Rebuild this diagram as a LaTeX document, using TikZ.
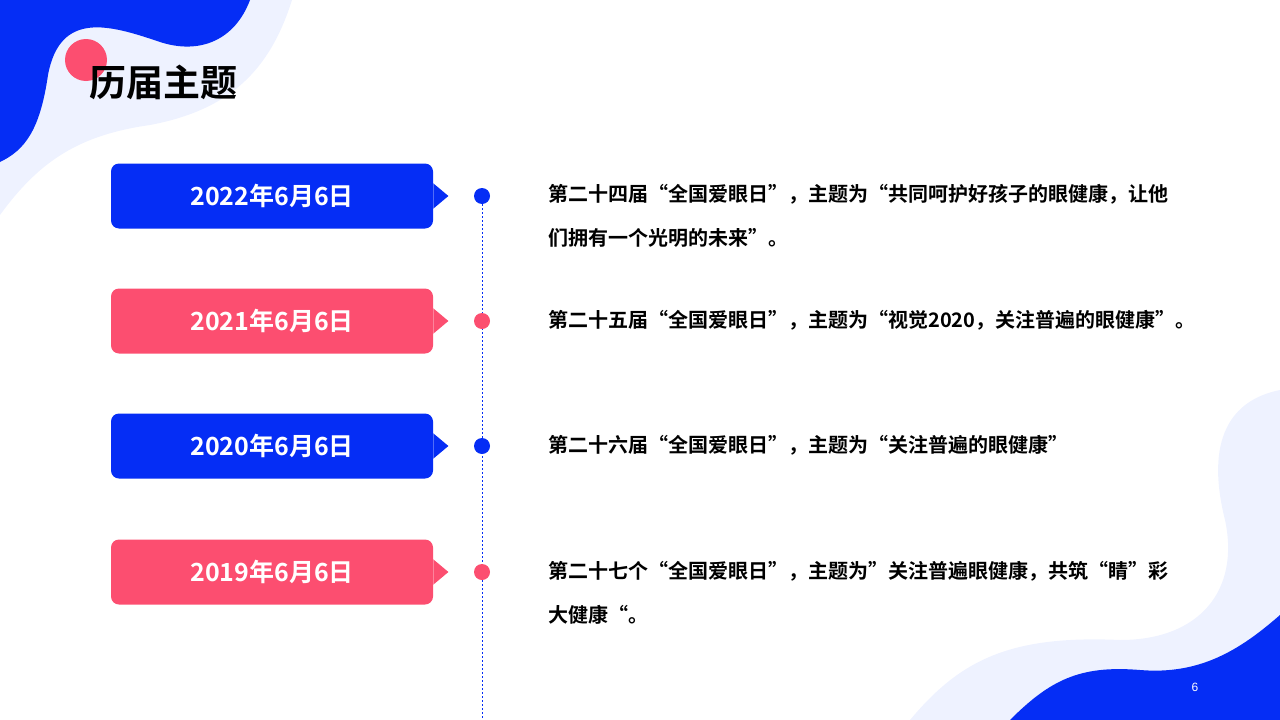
\documentclass[tikz,border=0pt]{standalone}
\usepackage{fontspec}
\setmainfont{Liberation Sans}
\newfontfamily\cjk{Noto Sans CJK SC}[BoldFont={Noto Sans CJK SC Bold}]
\XeTeXlinebreaklocale "zh"
\XeTeXlinebreakskip=0pt plus 1pt
\usetikzlibrary{shapes.geometric,positioning}
\definecolor{themeblue}{RGB}{5, 45, 245}
\definecolor{themered}{RGB}{252, 78, 112}
\definecolor{paleblue}{RGB}{238, 242, 255}
\tikzstyle{datebox} = [
  rounded corners=8pt,
  minimum width=322pt,
  minimum height=65pt,
  text=white,
  font=\cjk\bfseries\fontsize{25}{28}\selectfont,
]
\tikzstyle{pointer} = [
  isosceles triangle,
  isosceles triangle apex angle=80,
  minimum height=15pt,
  inner sep=0pt,
  anchor=west,
]
\tikzstyle{dot} = [circle, minimum size=16pt, inner sep=0pt]
\tikzstyle{theme} = [
  anchor=north west,
  text width=710pt,
  align=left,
  inner sep=0pt,
  font=\cjk\bfseries\fontsize{20}{44}\selectfont,
]
\begin{document}
\begin{tikzpicture}[x=1pt,y=-1pt]

        \useasboundingbox (0,0) rectangle (1280,720);

        % corner blobs
        \fill [paleblue] (0,0) -- (292,0) .. controls (270,70) and (230,110) .. (150,125)
              .. controls (80,135) and (40,160) .. (0,215) -- cycle;
        \fill [themeblue] (0,0) -- (250,0) .. controls (235,40) and (200,55) .. (160,42)
              .. controls (110,25) and (60,10) .. (48,75)
              .. controls (40,130) and (25,150) .. (0,162) -- cycle;
        \fill [paleblue] (910,720) .. controls (960,660) and (1010,635) .. (1120,640)
              .. controls (1200,640) and (1240,590) .. (1225,520)
              .. controls (1205,440) and (1230,400) .. (1280,390) -- (1280,720) -- cycle;
        \fill [themeblue] (1010,720) .. controls (1050,680) and (1080,665) .. (1140,670)
              .. controls (1200,675) and (1240,650) .. (1280,615) -- (1280,720) -- cycle;

        \fill [themered] (86,60) circle (21);
        \node [anchor=west, inner sep=0pt, font=\cjk\bfseries\fontsize{37}{40}\selectfont] (title) at (89,82) {历届主题};

        % timeline
        \node [datebox, fill=themeblue] (d2022) at (272,196) {2022年6月6日};
        \node [datebox, fill=themered] (d2021) at (272,321) {2021年6月6日};
        \node [datebox, fill=themeblue] (d2020) at (272,446) {2020年6月6日};
        \node [datebox, fill=themered] (d2019) at (272,572) {2019年6月6日};

        \node [pointer, fill=themeblue] (p2022) at (d2022.east) {};
        \node [pointer, fill=themered] (p2021) at (d2021.east) {};
        \node [pointer, fill=themeblue] (p2020) at (d2020.east) {};
        \node [pointer, fill=themered] (p2019) at (d2019.east) {};

        \coordinate (lineend) at (482,720);
        \draw [themeblue, line width=0.8pt, dash pattern=on 2pt off 2pt] (482,196) -- (lineend);

        \node [dot, fill=themeblue] (c2022) at (482,196) {};
        \node [dot, fill=themered] (c2021) at (482,321) {};
        \node [dot, fill=themeblue] (c2020) at (482,446) {};
        \node [dot, fill=themered] (c2019) at (482,572) {};

        \node [theme] (t2022) at (548,184) {第二十四届“全国爱眼日”，主题为“共同呵护好孩子的眼健康，让他\\们拥有一个光明的未来”。};
        \node [theme] (t2021) at (548,310) {第二十五届“全国爱眼日”，主题为“视觉2020，关注普遍的眼健康”。};
        \node [theme] (t2020) at (548,435) {第二十六届“全国爱眼日”，主题为“关注普遍的眼健康”};
        \node [theme] (t2019) at (548,561) {第二十七个“全国爱眼日”，主题为”关注普遍眼健康，共筑“睛”彩\\大健康“。};

        \node [text=white, font=\fontsize{12}{14}\selectfont] (page) at (1195,687) {6};
      \end{tikzpicture}
\end{document}
